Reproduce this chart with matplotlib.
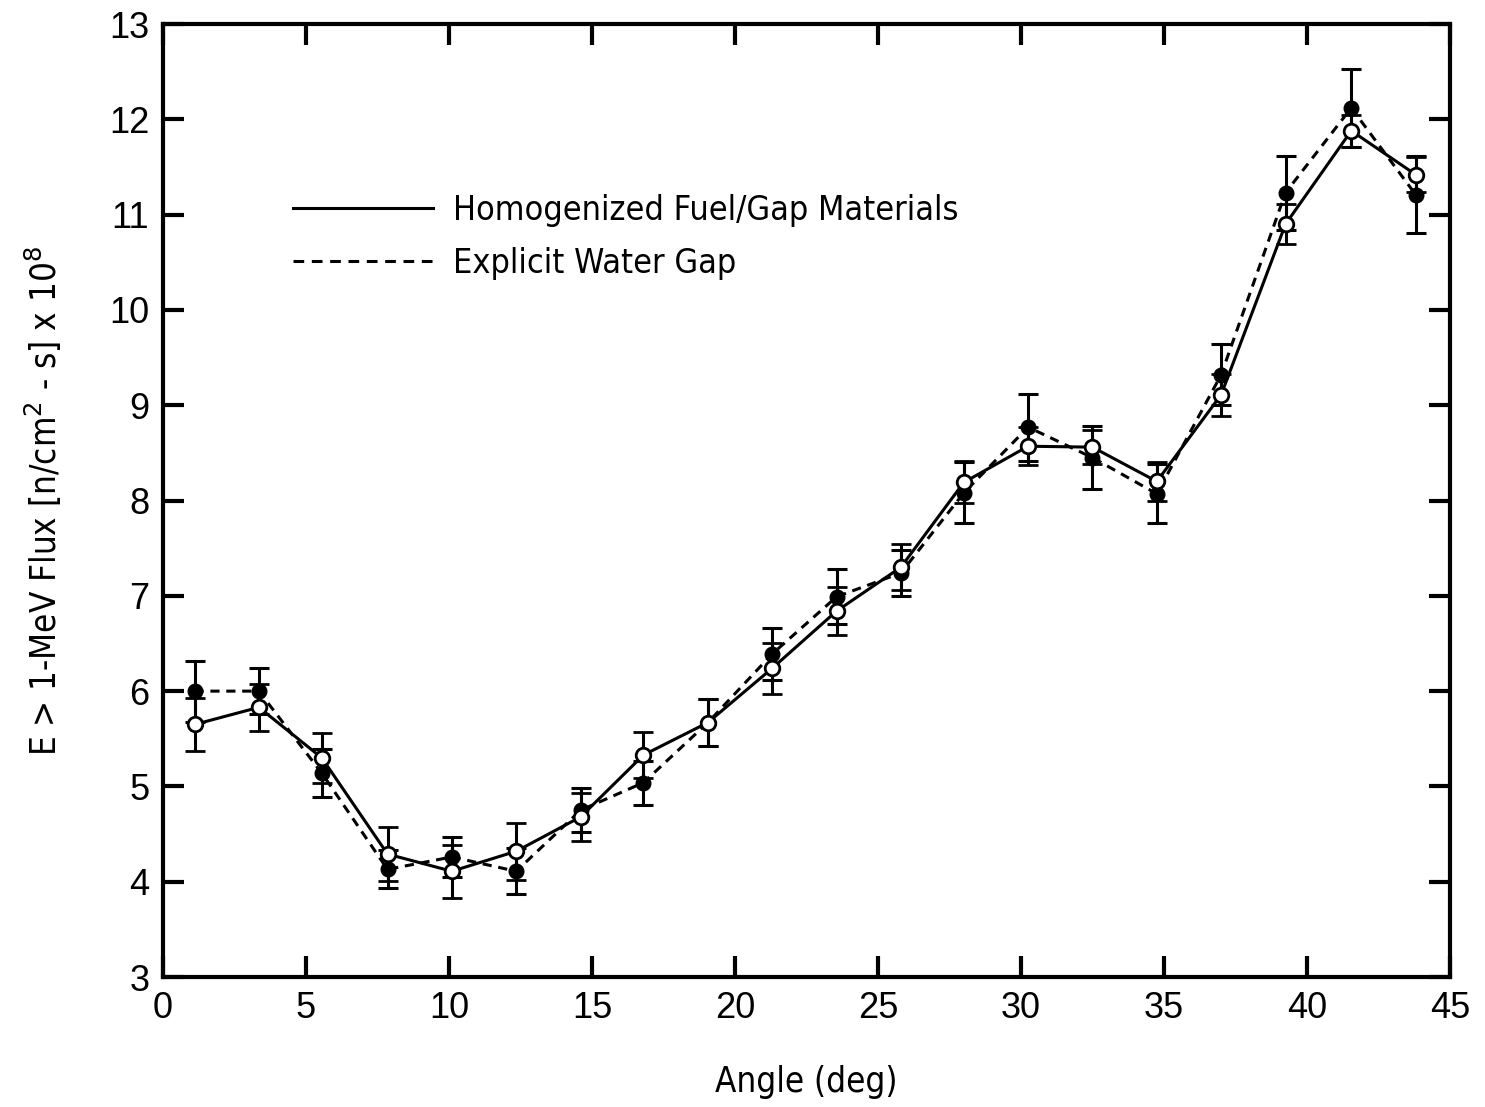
import numpy as np
import matplotlib
matplotlib.use("Agg")
import matplotlib.pyplot as plt
from matplotlib.lines import Line2D

# datos
angulo = [1.1, 3.35, 5.55, 7.85, 10.1, 12.35, 14.6, 16.8, 19.05, 21.3,
          23.55, 25.8, 28.0, 30.25, 32.5, 34.75, 37.0, 39.25, 41.55, 43.8]

# Homogenized Fuel/Gap Materials (circulo blanco, linea continua)
homog = [5.65, 5.83, 5.30, 4.29, 4.11, 4.32, 4.68, 5.33, 5.67, 6.24,
         6.84, 7.30, 8.19, 8.57, 8.56, 8.20, 9.11, 10.90, 11.88, 11.42]
homog_err = [0.28, 0.25, 0.26, 0.28, 0.28, 0.30, 0.25, 0.24, 0.25, 0.27,
             0.25, 0.24, 0.22, 0.20, 0.18, 0.20, 0.22, 0.21, 0.17, 0.18]

# Explicit Water Gap (circulo negro, linea discontinua)
agua = [6.00, 6.00, 5.14, 4.13, 4.26, 4.11, 4.75, 5.04, 5.67, 6.39,
        6.99, 7.24, 8.08, 8.77, 8.45, 8.07, 9.32, 11.23, 12.12, 11.21]
agua_err = [0.32, 0.24, 0.25, 0.20, 0.21, 0.24, 0.23, 0.23, 0.25, 0.27,
            0.29, 0.24, 0.32, 0.35, 0.33, 0.31, 0.32, 0.39, 0.41, 0.40]

xticks = [0, 5, 10, 15, 20, 25, 30, 35, 40, 45]
yticks = [3, 4, 5, 6, 7, 8, 9, 10, 11, 12, 13]

# fuente estrecha para los textos
narrow = {"family": "DejaVu Sans", "stretch": "condensed"}

fig = plt.figure(figsize=(14.85, 11.07), dpi=100)
ax = fig.add_axes([0.1098, 0.1174, 0.8666, 0.8609])

lw = 2.2
# explicit water gap
ax.errorbar(angulo, agua, yerr=agua_err, color="black", lw=lw, dashes=(3, 2.2),
            marker="o", ms=10.5, mfc="black", mec="black",
            ecolor="black", elinewidth=2.2, capsize=7, capthick=2.2, zorder=2)
# homogenized
ax.errorbar(angulo, homog, yerr=homog_err, color="black", lw=lw, ls="-",
            marker="o", ms=10.5, mfc="white", mec="black", mew=2,
            ecolor="black", elinewidth=2.2, capsize=7, capthick=2.2, zorder=3)

ax.set_xlim(0, 45)
ax.set_ylim(3, 13)
ax.set_xticks(xticks)
ax.set_yticks(yticks)
ax.tick_params(direction="in", length=15, width=3, top=True, right=True,
               labelsize=26, pad=10)
for lab in ax.get_xticklabels() + ax.get_yticklabels():
    lab.set_family("Liberation Sans")
for s in ax.spines.values():
    s.set_linewidth(3)

ax.set_xlabel("Angle (deg)", fontsize=25, labelpad=28, **narrow)
ax.set_ylabel("E > 1-MeV Flux [n/cm$^2$ - s] x 10$^8$", fontsize=25,
              labelpad=32, **narrow)

handles = [Line2D([], [], color="black", lw=2.2, ls="-"),
           Line2D([], [], color="black", lw=2.2, dashes=(3.5, 2.5))]
leg = ax.legend(handles, ["Homogenized Fuel/Gap Materials", "Explicit Water Gap"],
                loc="upper left", bbox_to_anchor=(0.101, 0.822), frameon=False,
                borderpad=0, borderaxespad=0,
                handlelength=4.1, handletextpad=0.6, labelspacing=0.6,
                prop={"family": "DejaVu Sans", "stretch": "condensed", "size": 24.5})

fig.savefig("out.png", dpi=100)
